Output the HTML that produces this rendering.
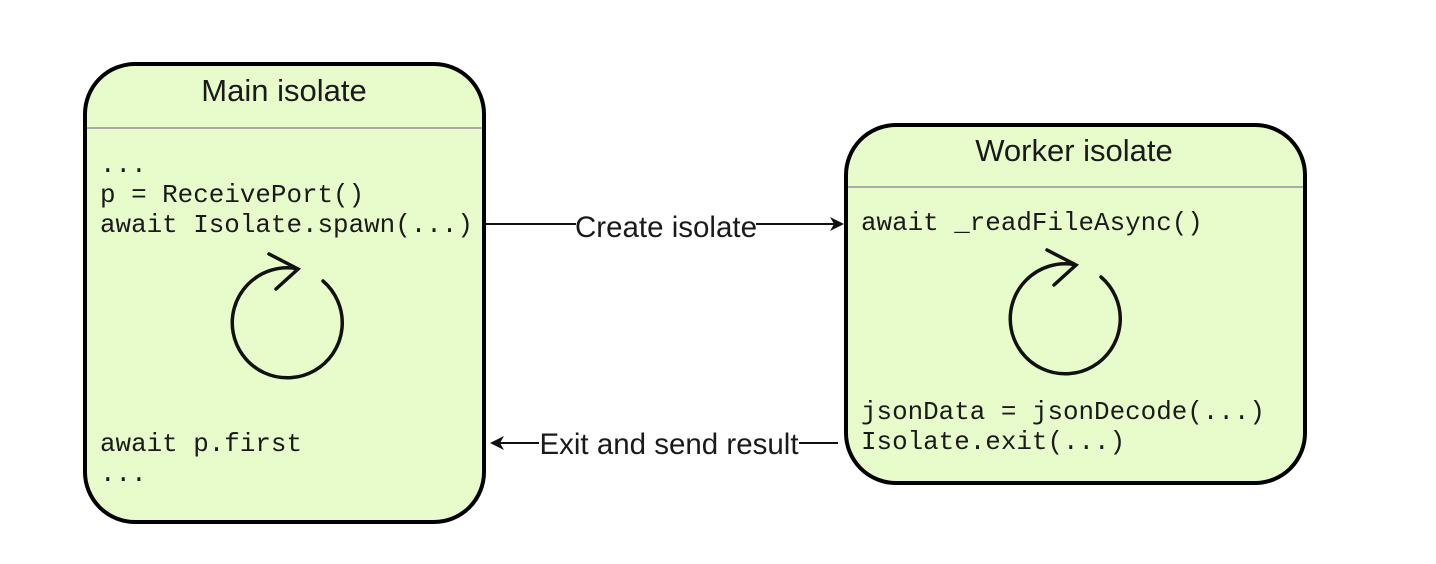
<!DOCTYPE html>
<html><head><meta charset="utf-8"><style>
html,body{margin:0;padding:0;background:#fff;}
svg{display:block}
.m{font-family:"Liberation Mono",monospace;font-size:25.9px;fill:#1a1a1a}
.t{font-family:"Liberation Sans",sans-serif;font-size:31px;fill:#1a1a1a}
.l{font-family:"Liberation Sans",sans-serif;font-size:29.5px;fill:#1a1a1a}
</style></head><body>
<svg width="1436" height="564" viewBox="0 0 1436 564">
<defs>
<g id="cyc">
<path d="M323,281 A55,55 0 1 1 296,268.5" fill="none" stroke="#111" stroke-width="3.5" stroke-linecap="round"/>
<path d="M269,254 L298,269 L276,289" fill="none" stroke="#111" stroke-width="3.5" stroke-linecap="round" stroke-linejoin="miter"/>
</g>
</defs>
<rect x="85" y="64" width="399" height="458" rx="50" fill="#e8fccb" stroke="#000" stroke-width="4"/>
<line x1="87" y1="128" x2="482" y2="128" stroke="#aaa" stroke-width="2"/>
<text class="t" x="284" y="101" text-anchor="middle">Main isolate</text>
<text class="m" x="100" y="172">...</text>
<text class="m" x="100" y="202">p = ReceivePort()</text>
<text class="m" x="100" y="232">await Isolate.spawn(...)</text>
<text class="m" x="100" y="451">await p.first</text>
<text class="m" x="100" y="481">...</text>
<use href="#cyc"/>

<rect x="846" y="125" width="459" height="358" rx="50" fill="#e8fccb" stroke="#000" stroke-width="4"/>
<line x1="848" y1="187" x2="1303" y2="187" stroke="#aaa" stroke-width="2"/>
<text class="t" x="1074" y="161" text-anchor="middle">Worker isolate</text>
<text class="m" x="861" y="230">await _readFileAsync()</text>
<text class="m" x="861" y="419">jsonData = jsonDecode(...)</text>
<text class="m" x="861" y="449">Isolate.exit(...)</text>
<use href="#cyc" transform="translate(778,-4)"/>

<line x1="486" y1="224" x2="576" y2="224" stroke="#111" stroke-width="2"/>
<line x1="756" y1="224" x2="834" y2="224" stroke="#111" stroke-width="2"/>
<path d="M844,224 L830,217 L834,224 L830,231 Z" fill="#111"/>
<text class="l" x="666" y="237" text-anchor="middle">Create isolate</text>

<line x1="500" y1="443" x2="539" y2="443" stroke="#111" stroke-width="2"/>
<line x1="799" y1="443" x2="838" y2="443" stroke="#111" stroke-width="2"/>
<path d="M490,443 L504,436 L500,443 L504,450 Z" fill="#111"/>
<text class="l" x="669" y="454" text-anchor="middle">Exit and send result</text>
</svg>
</body></html>
